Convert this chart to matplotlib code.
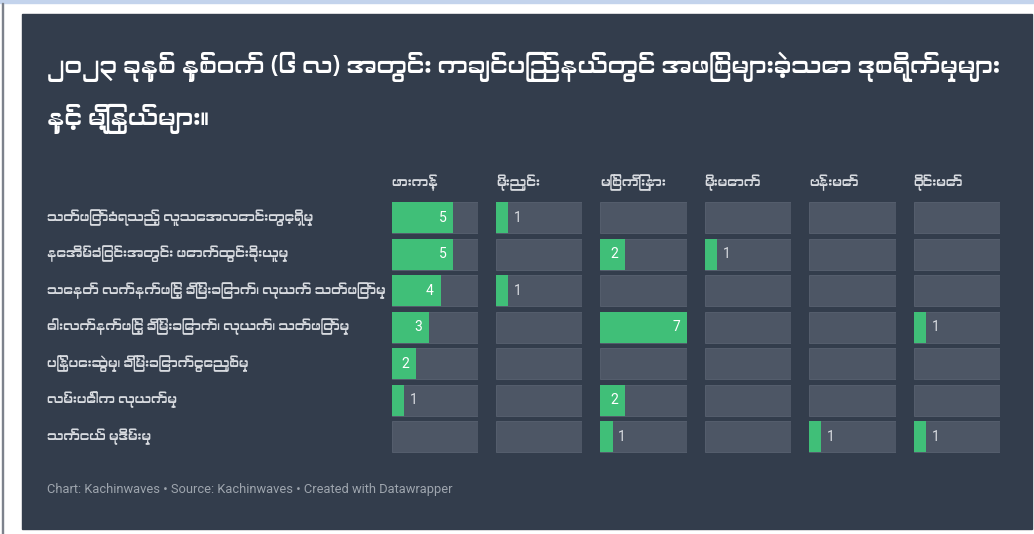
"""Datawrapper style small-multiple bar grid: crimes by township, Kachin state, first half 2023
"""

import matplotlib
matplotlib.use('Agg')
import matplotlib.pyplot as plt
from matplotlib import font_manager
from matplotlib.patches import Rectangle
from matplotlib.transforms import blended_transform_factory

title = ('၂၀၂၃ ခုနှစ် နှစ်ဝက် (၆ လ) အတွင်း ကချင်ပြည်နယ်တွင် အဖြစ်များခဲ့သော ဒုစရိုက်မှုများ\n'
         'နှင့် မြို့နယ်များ။')
footer = 'Chart: Kachinwaves • Source: Kachinwaves • Created with Datawrapper'

townships = ['ဖားကန့်', 'မိုးညှင်း', 'မြစ်ကြီးနား', 'မိုးမောက်', 'ဗန်းမော်', 'ဝိုင်းမော်']
crimes = ['သတ်ဖြတ်ခံရသည့် လူသေအလောင်းတွေ့ရှိမှု',
          'နေအိမ်ခြံဝင်းအတွင်း ဖောက်ထွင်းခိုးယူမှု',
          'သေနတ် လက်နက်ဖြင့် ခြိမ်းခြောက်၊ လုယက် သတ်ဖြတ်မှု',
          'ဓါးလက်နက်ဖြင့် ခြိမ်းခြောက်၊ လုယက်၊ သတ်ဖြတ်မှု',
          'ပြန်ပေးဆွဲမှု၊ ခြိမ်းခြောက်ငွေညှစ်မှု',
          'လမ်းပေါ်က လုယက်မှု',
          'သက်ငယ် မုဒိမ်းမှု']

# counts per township, one list per column, same order as crimes
hpakant = [5, 5, 4, 3, 2, 1, 0]
mohnyin = [1, 0, 1, 0, 0, 0, 0]
myitkyina = [0, 2, 0, 7, 0, 2, 1]
momauk = [0, 1, 0, 0, 0, 0, 0]
bhamo = [0, 0, 0, 0, 0, 0, 1]
waingmaw = [0, 0, 0, 1, 0, 0, 1]
columns = [hpakant, mohnyin, myitkyina, momauk, bhamo, waingmaw]


# look for something that can draw Myanmar script, otherwise fall back
def find_myanmar_font():
    try:
        from fontTools.ttLib import TTFont
    except ImportError:
        return None
    for f in font_manager.fontManager.ttflist:
        if 'myanmar' in f.name.lower() or 'padauk' in f.name.lower():
            return f.name
    for f in font_manager.fontManager.ttflist:
        try:
            tt = TTFont(f.fname, fontNumber=0, lazy=True)
            if 0x1000 in tt.getBestCmap():
                return f.name
        except Exception:
            pass
    return None


mm = find_myanmar_font()
families = ([mm] if mm else []) + ['Roboto', 'DejaVu Sans']
plt.rcParams['font.family'] = families

W, H = 1034, 534
panel_color = '#333d4c'
track_color = '#4d5665'
bar_color = '#40bf78'
label_color = '#d8dbe0'

fig = plt.figure(figsize=(W / 100, H / 100), dpi=100, facecolor='white')


def fx(px):
    return px / W


def fy(py):
    return 1 - py / H


# screenshot frame bits and the dark panel (kept under the axes)
fig.patches.append(Rectangle((0, fy(3)), 1, 3 / H, transform=fig.transFigure, color='#c3d3ec', zorder=-2))
fig.patches.append(Rectangle((fx(1.5), 0), 1.2 / W, fy(3), transform=fig.transFigure, color='#7d828c', zorder=-2))
fig.patches.append(Rectangle((fx(22), fy(528.5)), fx(1032 - 22), (528.5 - 14) / H,
                             transform=fig.transFigure, color=panel_color, zorder=-1))

fig.text(fx(47), fy(52), title, color='white', fontsize=17.5, va='top', ha='left', linespacing=2.0)
fig.text(fx(47), fy(490), footer, color='#9ea5ae', fontsize=9.3, va='center', ha='left',
         family=['Roboto', 'DejaVu Sans'])

vmax = max(max(c) for c in columns)
col_left = 391.5
col_step = 104.4
col_w = 86.5
top, bottom = 199.3, 454.8
ypos = list(range(len(crimes)))

for i, (name, vals) in enumerate(zip(townships, columns)):
    left = col_left + i * col_step
    ax = fig.add_axes([fx(left), fy(bottom), col_w / W, (bottom - top) / H])
    ax.set_facecolor('none')
    ax.barh(ypos, [vmax] * len(ypos), height=0.85, color=track_color, edgecolor='#586170',
            linewidth=0.6, zorder=1)
    ax.barh(ypos, vals, height=0.85, color=bar_color, zorder=2)
    ax.set_xlim(0, vmax)
    ax.set_ylim(len(crimes) - 0.5, -0.5)
    ax.axis('off')
    for y, v in zip(ypos, vals):
        if v == 0:
            continue
        if v >= 2:
            ax.annotate(str(v), (v, y), xytext=(-5, 0), textcoords='offset points', ha='right', va='center',
                        color='white', fontsize=10, family=['Roboto', 'DejaVu Sans'], zorder=3)
        else:
            ax.annotate(str(v), (v, y), xytext=(4, 0), textcoords='offset points', ha='left', va='center',
                        color=label_color, fontsize=10, family=['Roboto', 'DejaVu Sans'], zorder=3)
    fig.text(fx(left), fy(183), name, color=label_color, fontsize=9.6, ha='left', va='center')
    if i == 0:
        tr = blended_transform_factory(fig.transFigure, ax.transData)
        for y, c in zip(ypos, crimes):
            ax.text(fx(47), y, c, transform=tr, color=label_color, fontsize=9.5, ha='left', va='center',
                    clip_on=False)

fig.savefig('out.png', dpi=100, facecolor='white')
